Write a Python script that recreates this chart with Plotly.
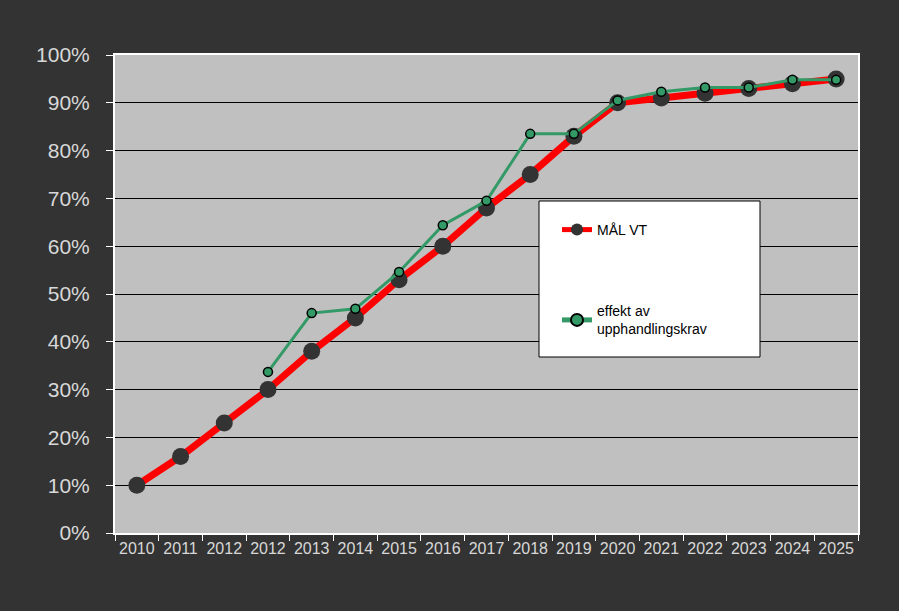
import plotly.graph_objects as go

labels = ["2010", "2011", "2012", "2012", "2013", "2014", "2015", "2016", "2017",
          "2018", "2019", "2020", "2021", "2022", "2023", "2024", "2025"]
mal_vt = [10, 16, 23, 30, 38, 45, 53, 60, 68, 75, 83, 90, 91, 92, 93, 94, 95]
effekt = [None, None, None, 33.7, 46, 46.9, 54.6, 64.4, 69.5, 83.5, 83.5, 90.5, 92.3, 93.2, 93.2, 94.8, 94.8]
y_ticks = list(range(0, 101, 10))
y_ticktext = [f"{v}%" for v in y_ticks]

x = list(range(len(labels)))

fig = go.Figure()
fig.add_trace(go.Scatter(
    x=x, y=mal_vt, name="MÅL VT", mode="lines+markers",
    line=dict(color="#FF0000", width=7),
    marker=dict(color="#333333", size=17),
    legendgroup="a",
))
fig.add_trace(go.Scatter(
    x=x, y=effekt, name="effekt av<br>upphandlingskrav", mode="lines+markers",
    line=dict(color="#339966", width=3),
    marker=dict(color="#339966", size=9, line=dict(color="#000000", width=1.5)),
    legendgroup="b", connectgaps=False,
))

fig.add_shape(type="rect", xref="paper", yref="paper",
              x0=(539 - 115) / 743, x1=(760 - 115) / 743,
              y0=(533 - 357) / 478, y1=(533 - 201) / 478,
              fillcolor="white", line=dict(color="black", width=1), layer="above")

fig.update_layout(
    width=899, height=611,
    paper_bgcolor="#333333", plot_bgcolor="#C0C0C0",
    margin=dict(l=115, r=41, t=55, b=78),
    font=dict(family="Liberation Sans, Arial, sans-serif"),
    showlegend=True,
    legend=dict(x=(557 - 115) / 743, y=(533 - 214) / 478, xanchor="left", yanchor="top",
                bgcolor="rgba(0,0,0,0)", borderwidth=0,
                font=dict(size=14, color="black"),
                tracegroupgap=60, itemsizing="constant"),
)
fig.update_xaxes(
    range=[-0.5, len(labels) - 0.5], tickvals=x, ticktext=labels,
    ticks="", showgrid=False, zeroline=False,
    showline=True, linecolor="white", linewidth=2, mirror=True,
    tickfont=dict(size=16, color="#D8D8D8"),
    minor=dict(tickvals=[i - 0.5 for i in range(len(labels) + 1)], ticks="outside",
               ticklen=6, tickcolor="white", tickwidth=1, showgrid=False),
)
fig.update_yaxes(
    range=[0, 100], tickvals=y_ticks, ticktext=y_ticktext,
    ticks="outside", ticklen=7, tickcolor="white", tickwidth=1,
    showgrid=True, gridcolor="black", gridwidth=1, zeroline=False,
    showline=True, linecolor="white", linewidth=2, mirror=True,
    tickfont=dict(size=21, color="#D8D8D8"), ticklabelstandoff=12,
)

fig.write_html("out.html", config={"displayModeBar": False},
               post_script="document.body.style.margin='0';document.body.style.background='#333333';")
